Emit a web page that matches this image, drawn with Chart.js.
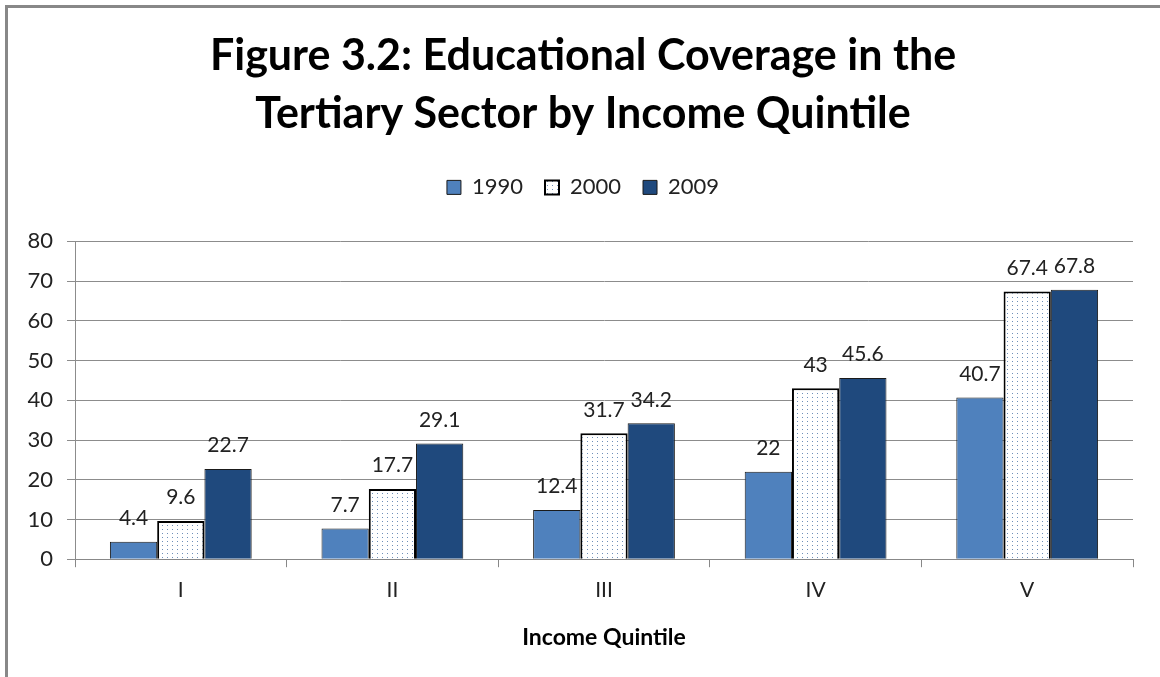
<!DOCTYPE html>
<html>
<head>
<meta charset="utf-8">
<script src="https://cdn.jsdelivr.net/npm/chart.js@4/dist/chart.umd.min.js"></script>
<style>
html,body{margin:0;padding:0;background:#fff;}
#wrap{position:relative;width:1160px;height:677px;overflow:hidden;}
#frame{position:absolute;left:5px;top:5px;width:1200px;height:800px;border-top:3px solid #888;border-left:3px solid #888;pointer-events:none;}
canvas{position:absolute;left:0;top:0;}
</style>
</head>
<body>
<div id="wrap"><canvas id="c" width="1160" height="677"></canvas><div id="frame"></div></div>
<script>
const categories = ['I','II','III','IV','V'];
const series1990 = [4.4, 7.7, 12.4, 22, 40.7];
const series2000 = [9.6, 17.7, 31.7, 43, 67.4];
const series2009 = [22.7, 29.1, 34.2, 45.6, 67.8];
const yTicks = [0,10,20,30,40,50,60,70,80];
const titleLines = ['Figure 3.2: Educational Coverage in the','Tertiary Sector by Income Quintile'];

const FONT = 'Lato, "Liberation Sans", sans-serif';

function makeDots(){
  const p = document.createElement('canvas');
  p.width = 5; p.height = 4;
  const g = p.getContext('2d');
  g.fillStyle = '#ffffff'; g.fillRect(0,0,5,4);
  g.fillStyle = '#6f8fb8'; g.fillRect(2,1,1,1);
  return document.getElementById('c').getContext('2d').createPattern(p,'repeat');
}
const dots = makeDots();

const labelPlugin = {
  id:'valueLabels',
  afterDatasetsDraw(chart){
    const ctx = chart.ctx;
    ctx.save();
    ctx.font = '21px ' + FONT;
    ctx.fillStyle = '#222';
    ctx.textAlign = 'center';
    ctx.textBaseline = 'bottom';
    chart.data.datasets.forEach((ds,i)=>{
      const meta = chart.getDatasetMeta(i);
      meta.data.forEach((el,j)=>{
        ctx.fillText(String(ds.data[j]), el.x, el.y - 13);
      });
    });
    ctx.restore();
  }
};

const legendSpace = {
  id:'legendSpace',
  beforeInit(chart){
    const fit = chart.legend.fit;
    chart.legend.fit = function(){ fit.bind(this)(); this.height += 33; };
  }
};

new Chart(document.getElementById('c'), {
  type:'bar',
  data:{
    labels:categories,
    datasets:[
      {label:'1990', data:series1990, backgroundColor:'#4f81bd', borderColor:'#1a1a1a', borderWidth:1},
      {label:'2000', data:series2000, backgroundColor:dots, borderColor:'#000', borderWidth:2},
      {label:'2009', data:series2009, backgroundColor:'#1f497d', borderColor:'#1a1a1a', borderWidth:1}
    ]
  },
  plugins:[labelPlugin, legendSpace],
  options:{
    responsive:false,
    animation:false,
    layout:{padding:{left:6,right:0,top:0,bottom:22}},
    datasets:{bar:{categoryPercentage:0.67, barPercentage:1.0, borderSkipped:'bottom'}},
    plugins:{
      title:{display:true, text:titleLines, color:'#000',
        font:{family:FONT, size:43, weight:'bold', lineHeight:1.33},
        padding:{top:28,bottom:12}},
      legend:{display:true, position:'top',
        labels:{color:'#222', font:{family:FONT,size:22}, boxWidth:14, boxHeight:14, padding:22}},
      tooltip:{enabled:false}
    },
    scales:{
      x:{
        offset:true,
        grid:{display:true, offset:true, drawOnChartArea:false, tickLength:8, color:'#888'},
        border:{color:'#888'},
        ticks:{color:'#222', font:{family:FONT,size:21}, padding:10},
        title:{display:true, text:'Income Quintile', color:'#000', font:{family:FONT,size:23,weight:'bold'}, padding:{top:11}}
      },
      y:{
        min:0, max:80,
        afterFit(axis){ axis.width = 69; },
        afterBuildTicks(axis){ axis.ticks = yTicks.map(v=>({value:v})); },
        grid:{color:'#8c8c8c', tickLength:8, lineWidth:1},
        border:{color:'#8c8c8c'},
        ticks:{color:'#222', font:{family:FONT,size:22}, padding:14}
      },
      ySpacer:{
        type:'linear', position:'right', display:true,
        grid:{display:false, drawTicks:false}, border:{display:false},
        ticks:{display:false},
        afterFit(axis){ axis.width = 27; }
      }
    }
  }
});
</script>
</body>
</html>
